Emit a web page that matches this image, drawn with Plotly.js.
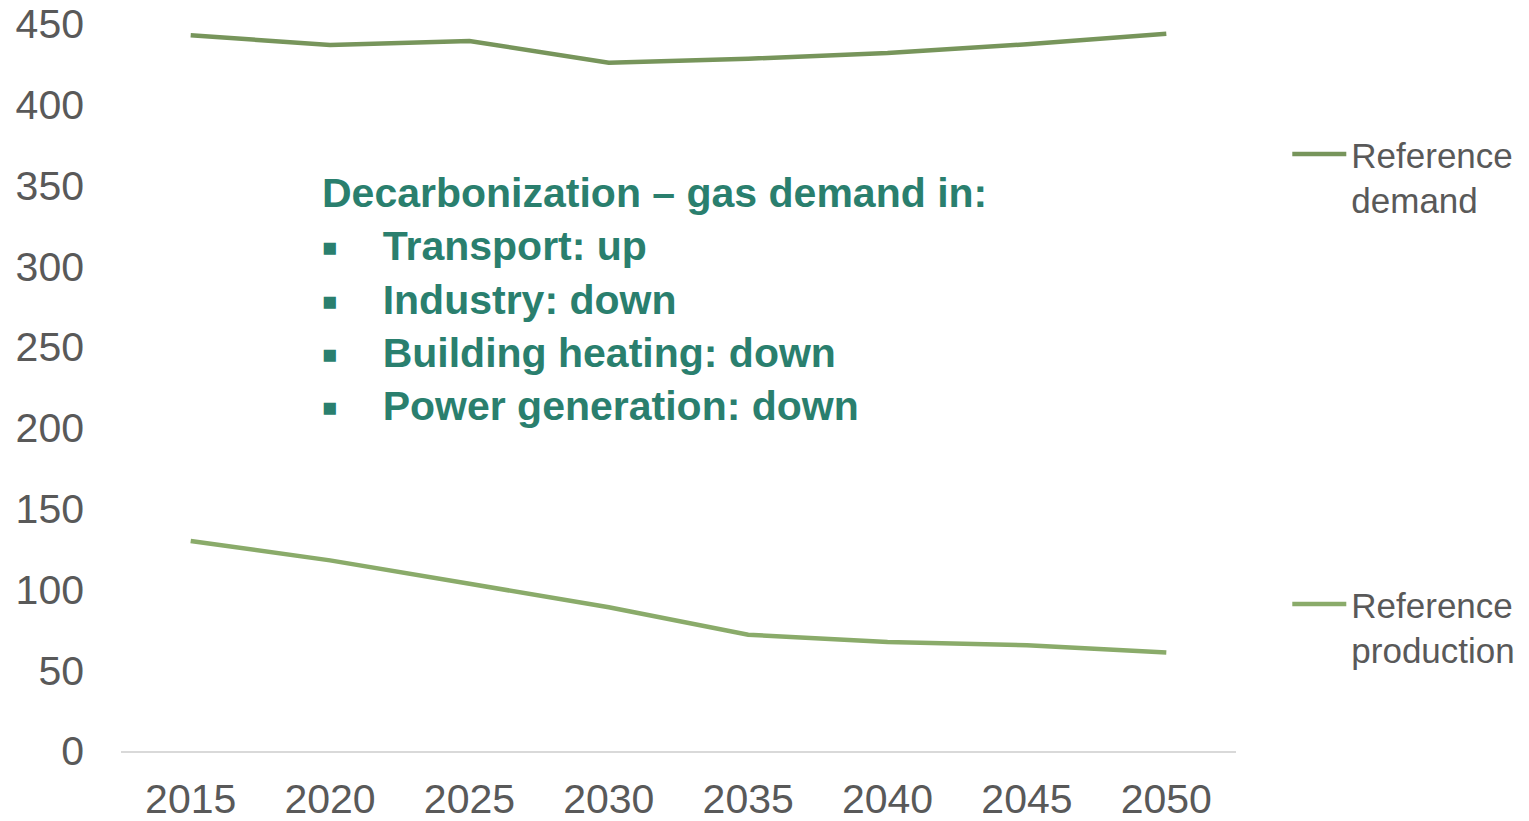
<!DOCTYPE html>
<html>
<head>
<meta charset="utf-8">
<script src="https://cdn.plot.ly/plotly-3.0.1.min.js"></script>
<style>html,body{margin:0;padding:0;background:#fff;}#chart{width:1529px;height:821px;}</style>
</head>
<body>
<div id="chart"></div>
<script>
const years = ["2015","2020","2025","2030","2035","2040","2045","2050"];
const referenceDemand = [443, 437, 439.5, 426, 428.5, 432, 437.5, 444];
const referenceProduction = [130, 118, 103.5, 89, 72, 67.5, 65.5, 61];
const yTicks = [0, 50, 100, 150, 200, 250, 300, 350, 400, 450];
const seriesNames = ["Reference<br>demand", "Reference<br>production"];
const noteTitle = "Decarbonization \u2013 gas demand in:";
const noteItems = ["Transport: up", "Industry: down", "Building heating: down", "Power generation: down"];

const font = "Liberation Sans, Arial, sans-serif";
const traces = [
  {x: years, y: referenceDemand, type: "scatter", mode: "lines", name: seriesNames[0],
   line: {color: "#77955B", width: 4.5}, legend: "legend"},
  {x: years, y: referenceProduction, type: "scatter", mode: "lines", name: seriesNames[1],
   line: {color: "#8AAB6A", width: 4.5}, legend: "legend2"}
];

const bullet = '<span style="font-size:25px;baseline-shift:4px">\u25A0</span>\u00A0\u00A0\u00A0\u00A0';
const noteText = noteTitle + "<br>" + noteItems.map(t => bullet + t).join("<br>");

const legendCommon = {
  font: {family: font, size: 35, color: "#595959"},
  bgcolor: "rgba(0,0,0,0)", borderwidth: 0, xanchor: "left", yanchor: "middle",
  valign: "top", itemwidth: 54, tracegroupgap: 0
};

const layout = {
  width: 1529, height: 821,
  margin: {l: 121, r: 293, t: 24, b: 70, autoexpand: false},
  paper_bgcolor: "#fff", plot_bgcolor: "#fff",
  font: {family: font, color: "#595959"},
  showlegend: true,
  legend: Object.assign({x: 1.046, y: 0.79}, legendCommon),
  legend2: Object.assign({x: 1.046, y: 0.171}, legendCommon),
  xaxis: {
    type: "category", range: [-0.5, 7.5], showgrid: false, zeroline: false,
    showline: true, linecolor: "#D9D9D9", linewidth: 1.5,
    ticks: "", tickfont: {family: font, size: 41, color: "#595959"},
    ticklabelstandoff: 11
  },
  yaxis: {
    range: [0, 450], tickvals: yTicks, ticktext: yTicks.map(String),
    showgrid: false, zeroline: false, showline: false, ticks: "",
    tickfont: {family: font, size: 41, color: "#595959"},
    ticklabelstandoff: 36
  },
  annotations: [{
    xref: "paper", yref: "paper", x: 0.1785, y: 0.6204,
    xanchor: "left", yanchor: "middle", align: "left", showarrow: false,
    text: "<b>" + noteText + "</b>",
    font: {family: font, size: 41, color: "#2A7F6E"}
  }]
};

Plotly.newPlot("chart", traces, layout, {displayModeBar: false, staticPlot: true});
</script>
</body>
</html>
